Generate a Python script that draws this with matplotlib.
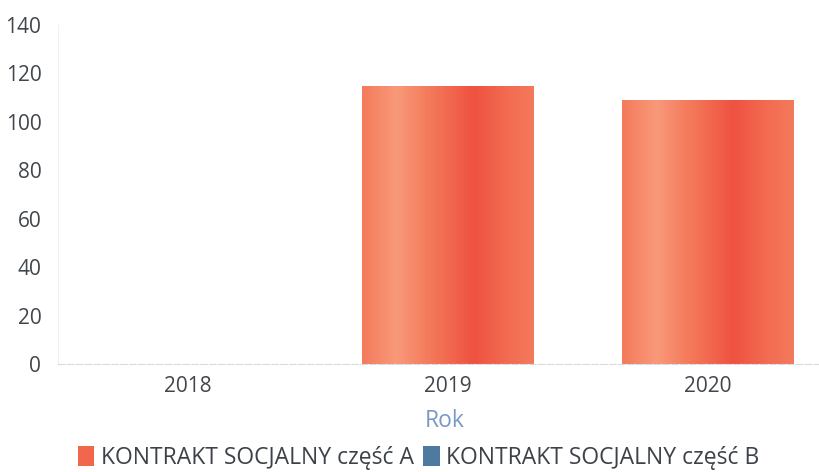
import matplotlib
matplotlib.use("Agg")
import matplotlib.pyplot as plt
import numpy as np
from matplotlib.colors import LinearSegmentedColormap
from matplotlib.patches import Rectangle

years = ["2018", "2019", "2020"]
czesc_a = [0, 115, 109]
czesc_b = [0, 0, 0]
series_names = ["KONTRAKT SOCJALNY część A", "KONTRAKT SOCJALNY część B"]

plt.rcParams["font.family"] = ["Open Sans", "DejaVu Sans"]

# horizontal gradients like the scanned original
grad_a = LinearSegmentedColormap.from_list(
    "grad_a",
    [(0.0, "#f47a5a"), (0.2, "#f8997a"), (0.38, "#f47c5c"),
     (0.65, "#ef5241"), (0.85, "#f26c52"), (1.0, "#f47a5c")])
grad_b = LinearSegmentedColormap.from_list(
    "grad_b", [(0.0, "#8fb0cc"), (0.35, "#5d87ab"), (1.0, "#3c6890")])

fig = plt.figure(figsize=(8.19, 4.72), dpi=100)
ax = fig.add_axes([58 / 819, 108 / 472, 1 - 58 / 819, 339 / 472])

x = np.arange(len(years))
bars_a = ax.bar(x, czesc_a, width=0.66, color="none", zorder=2)
bars_b = ax.bar(x, czesc_b, width=0.66, bottom=czesc_a, color="none", zorder=2)

strip = np.linspace(0, 1, 256).reshape(1, -1)
for bars, cmap in ((bars_a, grad_a), (bars_b, grad_b)):
    for b in bars:
        if b.get_height() <= 0:
            continue
        x0, y0 = b.get_x(), b.get_y()
        im = ax.imshow(strip, cmap=cmap, aspect="auto", zorder=2,
                       extent=(x0, x0 + b.get_width(), y0, y0 + b.get_height()))
        im.set_clip_path(b)

ax.set_xlim(-0.5, -0.5 + 761 / 260)
ax.set_ylim(0, 140)
ax.set_yticks(np.arange(0, 141, 20))
ax.set_xticks(x)
ax.set_xticklabels(years)

ax.tick_params(axis="both", length=0, labelsize=15, labelcolor="#41464c")
ax.tick_params(axis="y", pad=12)
ax.tick_params(axis="x", pad=9)

for side in ("top", "right"):
    ax.spines[side].set_visible(False)
ax.spines["left"].set_color("#f0f0f0")
ax.spines["bottom"].set_color("#d5dbe3")
ax.spines["bottom"].set_linestyle((0, (6, 2)))

ax.set_xlabel("Rok", fontsize=16.5, color="#7a98c4")
ax.xaxis.set_label_coords((445 - 58) / 761, -45 / 339)

handles = [
    Rectangle((0, 0), 1, 1, facecolor="#f2674c", edgecolor="none"),
    Rectangle((0, 0), 1, 1, facecolor="#4f7aa0", edgecolor="none"),
]
leg = fig.legend(handles, series_names, loc="center", bbox_to_anchor=(419 / 819, 1 - 458 / 472),
                 ncol=2, frameon=False, fontsize=16.5, handlelength=0.7, handleheight=0.95,
                 handletextpad=0.3, columnspacing=0.4)
for t in leg.get_texts():
    t.set_color("#3d4248")

fig.savefig("out.png", dpi=100)
